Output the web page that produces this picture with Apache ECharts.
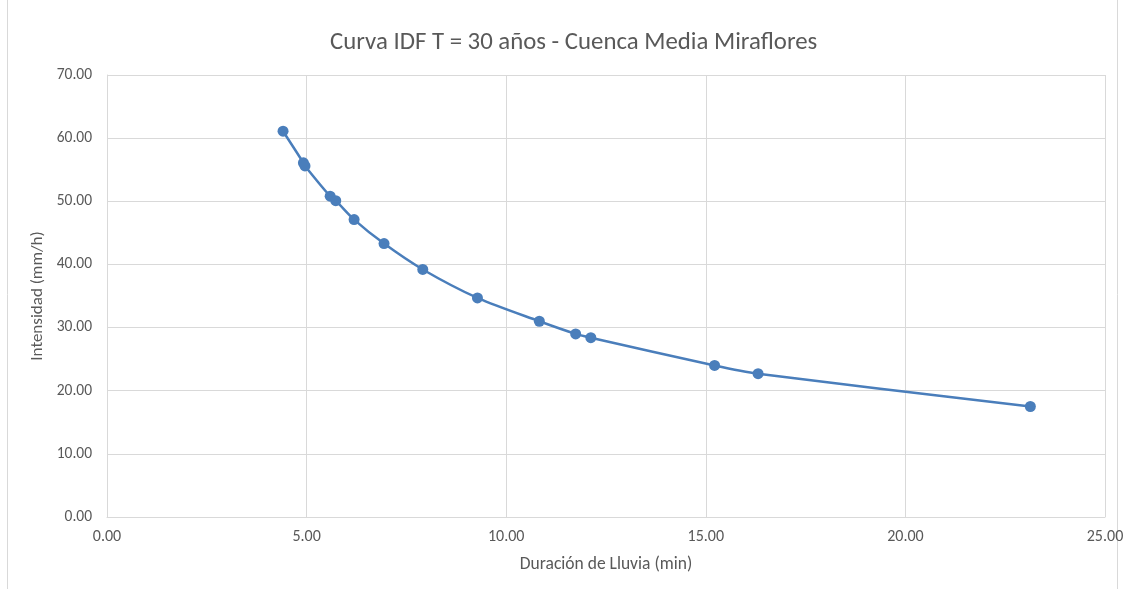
<!DOCTYPE html>
<html>
<head>
<meta charset="utf-8">
<script src="https://cdn.jsdelivr.net/npm/echarts@6/dist/echarts.min.js"></script>
<style>html,body{margin:0;padding:0;background:#fff}#c{width:1128px;height:589px}</style>
</head>
<body>
<div id="c"></div>
<script>
const durations = [4.41, 4.92, 4.96, 5.59, 5.73, 6.19, 6.94, 7.91, 9.28, 10.83, 11.74, 12.12, 15.22, 16.31, 23.13];
const intensities = [61.1, 56.1, 55.6, 50.8, 50.1, 47.1, 43.3, 39.2, 34.7, 31.0, 29.0, 28.4, 24.0, 22.7, 17.5];
const titleText = 'Curva IDF T = 30 años - Cuenca Media Miraflores';
const xName = 'Duración de Lluvia (min)';
const yName = 'Intensidad (mm/h)';

const chart = echarts.init(document.getElementById('c'));
const font = 'Calibri, Carlito, "Open Sans", "Liberation Sans", sans-serif';
chart.setOption({
  animation: false,
  backgroundColor: '#fff',
  title: {
    text: titleText, left: 325, top: 25,
    textStyle: {fontFamily: font, fontSize: 24.8, fontWeight: 'normal', color: '#595959'}
  },
  graphic: [{
    type: 'rect', shape: {x: 7.5, y: -2, width: 1110, height: 600},
    style: {fill: 'none', stroke: '#d9d9d9', lineWidth: 1}, silent: true
  }],
  grid: {left: 107, right: 23, top: 75, bottom: 72},
  xAxis: {
    type: 'value', min: 0, max: 25, interval: 5,
    name: xName, nameLocation: 'middle', nameGap: 39,
    nameTextStyle: {fontFamily: font, fontSize: 17.5, color: '#595959'},
    axisLine: {lineStyle: {color: '#d9d9d9'}},
    axisTick: {show: false},
    axisLabel: {fontFamily: font, fontSize: 16, color: '#595959', margin: 12, formatter: v => v.toFixed(2)},
    splitLine: {show: true, lineStyle: {color: '#d9d9d9'}}
  },
  yAxis: {
    type: 'value', min: 0, max: 70, interval: 10,
    name: yName, nameLocation: 'middle', nameGap: 56,
    nameTextStyle: {fontFamily: font, fontSize: 17, color: '#595959'},
    axisLine: {show: true, lineStyle: {color: '#d9d9d9'}},
    axisTick: {show: false},
    axisLabel: {fontFamily: font, fontSize: 15.5, color: '#595959', margin: 15, formatter: v => v.toFixed(2)},
    splitLine: {show: true, lineStyle: {color: '#d9d9d9'}}
  },
  series: [{
    type: 'line',
    data: durations.map((d, i) => [d, intensities[i]]),
    smooth: 0.3,
    symbol: 'circle', symbolSize: 11,
    lineStyle: {color: '#4a7ebb', width: 2.5},
    itemStyle: {color: '#4a7ebb'}
  }]
});
</script>
</body>
</html>
